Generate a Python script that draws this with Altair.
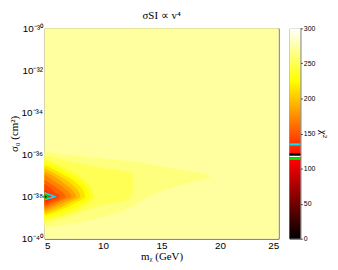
import altair as alt
import pandas as pd

# chi^2 value of each filled contour region (outermost first)
levels = [272, 262, 250, 238, 226, 212, 198, 184, 170, 156, 142, 128]

# right-hand boundary of each region: log10(sigma0) and m_chi (GeV); regions touch the m=5 edge
edge_logsig = [
    [-40.0, -30.0],
    [-39.5, -39.1, -38.66, -38.2, -37.75, -37.4, -37.02, -36.65, -36.3, -36.1, -35.85],
    [-39.3, -38.85, -38.45, -38.1, -37.5, -36.9, -36.6, -36.3, -36.05],
    [-39.15, -38.9, -38.5, -38.0, -37.5, -37.0, -36.6, -36.2],
    [-39.0, -38.75, -38.4, -38.0, -37.5, -37.05, -36.7, -36.35],
    [-38.9, -38.65, -38.3, -38.0, -37.55, -37.1, -36.8, -36.5],
    [-38.8, -38.55, -38.25, -38.0, -37.6, -37.2, -36.9, -36.65],
    [-38.7, -38.45, -38.2, -38.0, -37.65, -37.3, -37.0, -36.8],
    [-38.6, -38.35, -38.15, -38.0, -37.7, -37.4, -37.15, -36.95],
    [-38.5, -38.25, -38.0, -37.7, -37.45, -37.2],
    [-38.4, -38.2, -38.0, -37.75, -37.5, -37.4],
    [-38.25, -38.0, -37.8, -37.65],
]
edge_mass = [
    [25.0, 25.0],
    [5.0, 9.0, 11.8, 13.3, 14.9, 17.0, 19.2, 16.0, 12.2, 8.5, 5.0],
    [5.0, 7.6, 9.6, 12.3, 12.6, 12.5, 9.6, 7.0, 5.0],
    [5.0, 6.6, 8.2, 9.2, 8.9, 7.9, 6.6, 5.0],
    [5.0, 6.5, 7.9, 8.85, 8.5, 7.5, 6.3, 5.0],
    [5.0, 6.3, 7.6, 8.45, 8.1, 7.1, 6.1, 5.0],
    [5.0, 6.2, 7.3, 8.05, 7.7, 6.8, 5.9, 5.0],
    [5.0, 6.1, 7.0, 7.7, 7.3, 6.5, 5.7, 5.0],
    [5.0, 6.0, 6.7, 7.3, 6.9, 6.2, 5.5, 5.0],
    [5.0, 5.9, 6.8, 6.3, 5.7, 5.0],
    [5.0, 5.7, 6.3, 5.8, 5.3, 5.0],
    [5.0, 5.75, 5.3, 5.0],
]

# confidence contour (cyan) and best fit point
cl_mass = [5.0, 5.85, 5.0]
cl_logsig = [-37.82, -38.0, -38.15]
best_mass = [5.1]
best_logsig = [-38.0]

# colour-bar markers (chi^2 ranges and colours)
mark_lo = [112.5, 116.5, 119.0, 133.0]
mark_hi = [116.0, 118.0, 121.5, 136.0]
mark_col = ["#00ee00", "#ffffff", "#000000", "#00e5ff"]

x_ticks = [5, 10, 15, 20, 25]
y_ticks = [-40, -38, -36, -34, -32, -30]
cb_ticks = [0, 50, 100, 150, 200, 250, 300]

hot_domain = [0, 112.5, 225, 300]
hot_range = ["#000000", "#ff0000", "#ffff00", "#ffffff"]

W, H = 237, 213
LABEL_FONT = "Liberation Sans"
MATH_FONT = "Liberation Serif"

xscale = alt.Scale(domain=[5, 25], nice=False, zero=False)
yscale = alt.Scale(domain=[-40, -30], nice=False, zero=False)
hot = alt.Scale(domain=hot_domain, range=hot_range, interpolate="rgb")

ylab = ("datum.value == -40 ? '10⁻⁴⁰' : datum.value == -38 ? '10⁻³⁸' : "
        "datum.value == -36 ? '10⁻³⁶' : datum.value == -34 ? '10⁻³⁴' : "
        "datum.value == -32 ? '10⁻³²' : '10⁻³⁰'")

xaxis = alt.Axis(values=x_ticks, title="mᵪ (GeV)", grid=False, ticks=False, domain=False,
                 labelFont=LABEL_FONT, labelFontSize=10, labelColor="#000", labelPadding=2,
                 titleFont=MATH_FONT, titleFontSize=11, titleFontWeight="normal",
                 titleColor="#000", titlePadding=0)
yaxis = alt.Axis(values=y_ticks, labelExpr=ylab, title="σ₀ (cm²)", grid=False, ticks=False,
                 domain=False, labelFont=LABEL_FONT, labelFontSize=10, labelColor="#000",
                 labelPadding=2, titleFont=MATH_FONT, titleFontSize=11,
                 titleFontWeight="normal", titleColor="#000", titlePadding=1)

X = alt.X("m:Q", scale=xscale, axis=xaxis, stack=False)
Y = alt.Y("ls:Q", scale=yscale, axis=yaxis)

layers = []
for i, lev in enumerate(levels):
    df = pd.DataFrame({"ls": edge_logsig[i], "m": edge_mass[i]})
    df["lev"] = lev
    df = df.sort_values("ls")
    layers.append(
        alt.Chart(df).mark_area(orient="horizontal", interpolate="monotone").encode(
            y=Y, x=X, x2=alt.datum(5),
            color=alt.Color("lev:Q", scale=hot, legend=None),
        )
    )

cl_df = pd.DataFrame({"m": cl_mass, "ls": cl_logsig, "i": [0, 1, 2]})
cl = alt.Chart(cl_df).mark_line(color="#00e5ff", strokeWidth=1.6).encode(
    x=X, y=Y, order="i:Q")

bf_df = pd.DataFrame({"m": best_mass, "ls": best_logsig})
bf = alt.Chart(bf_df).mark_point(shape="cross", filled=True, color="#00dd00", size=30,
                                 opacity=1).encode(x=X, y=Y)
bf_dot = alt.Chart(bf_df).mark_point(shape="circle", filled=True, color="#000000", size=4,
                                     opacity=1).encode(x=X, y=Y)

main = alt.layer(*layers, cl, bf, bf_dot).properties(
    width=W, height=H,
    title=alt.Title("σSI ∝ v⁴", font=MATH_FONT, fontSize=11, fontWeight="normal",
                    color="#000", offset=2),
)

# colour bar
cb_df = pd.DataFrame({"lo": [0], "hi": [300]})
cbscale = alt.Scale(domain=[0, 300], nice=False, zero=False)
grad = alt.Gradient(
    gradient="linear",
    stops=[alt.GradientStop(color=hot_range[0], offset=0),
           alt.GradientStop(color=hot_range[1], offset=0.375),
           alt.GradientStop(color=hot_range[2], offset=0.75),
           alt.GradientStop(color=hot_range[3], offset=1)],
    x1=0, x2=0, y1=1, y2=0,
)
cb_axis = alt.Axis(values=cb_ticks, orient="right", title="χ²", grid=False, tickSize=2,
                   tickColor="#444", domain=False, labelFont=LABEL_FONT, labelFontSize=7,
                   labelOverlap=False, labelFlush=False,
                   labelColor="#000", labelPadding=1, titleFont=MATH_FONT, titleFontSize=11,
                   titleFontWeight="normal", titleColor="#000", titlePadding=3)
CBY = alt.Y("lo:Q", scale=cbscale, axis=cb_axis)
cb_bar = alt.Chart(cb_df).mark_rect(color=grad).encode(
    y=CBY, y2="hi:Q", x=alt.value(0), x2=alt.value(11))
mk_df = pd.DataFrame({"lo": mark_lo, "hi": mark_hi, "c": mark_col})
cb_marks = alt.Chart(mk_df).mark_rect().encode(
    y=CBY, y2="hi:Q", x=alt.value(0), x2=alt.value(11),
    color=alt.Color("c:N", scale=None))
cbar = alt.layer(cb_bar, cb_marks).properties(width=11, height=H)

chart = alt.hconcat(main, cbar, spacing=9).configure_view(
    stroke="#555", strokeWidth=1
).properties(padding={"left": 0, "top": 0, "right": 0, "bottom": 0},
             background="#ffffff")

chart.save("out.html", embed_options={"renderer": "svg", "actions": False})
